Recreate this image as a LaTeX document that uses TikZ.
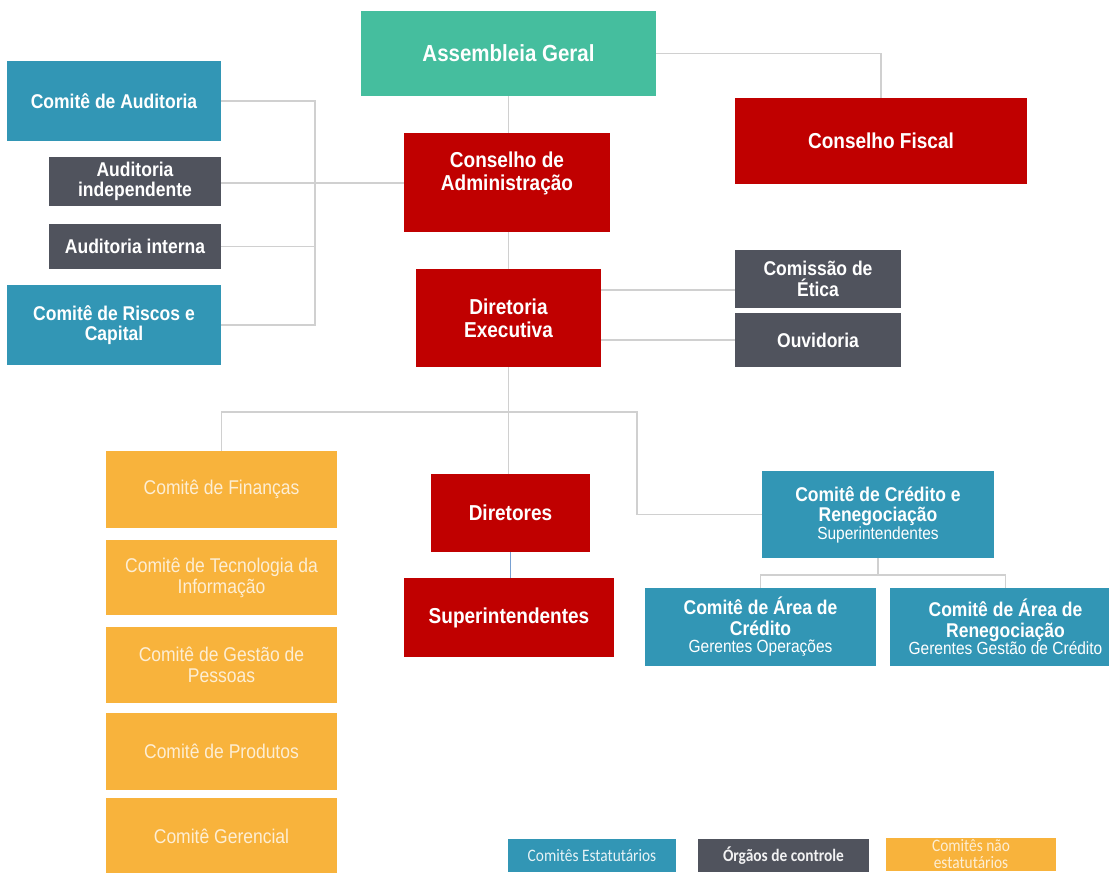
\documentclass[tikz,border=0pt]{standalone}
\usepackage{fontspec}
\setmainfont[FakeStretch=0.88]{Liberation Sans}
\newfontfamily\legendfont[FakeStretch=0.88]{Carlito}
\newcommand\subtxt{\mdseries\fontsize{17.6}{18}\selectfont}
\definecolor{cteal}{RGB}{69,190,158}
\definecolor{cred}{RGB}{192,0,0}
\definecolor{cblue}{RGB}{50,150,181}
\definecolor{cgray}{RGB}{80,83,93}
\definecolor{cyellow}{RGB}{248,179,60}
\definecolor{ytext}{RGB}{253,238,212}
\definecolor{cline}{RGB}{208,208,208}
\definecolor{clineblue}{RGB}{120,160,210}
\tikzset{
  box/.style={draw=none, align=center, text=white, inner sep=1pt},
  big/.style={font=\bfseries\fontsize{21.6}{23}\selectfont},
  mid/.style={font=\bfseries\fontsize{19.9}{20.5}\selectfont},
  tealbox/.style={box, fill=cteal, font=\bfseries\fontsize{23.3}{24}\selectfont},
  redbox/.style={box, fill=cred, big},
  bluebox/.style={box, fill=cblue, mid},
  graybox/.style={box, fill=cgray, mid},
  yellowbox/.style={box, fill=cyellow, text=ytext, font=\fontsize{19.9}{21}\selectfont},
  legendbox/.style={box, font=\legendfont\fontsize{17.5}{17}\selectfont, minimum height=33pt},
  conn/.style={draw=cline, line width=1.6pt}
}
\begin{document}
\begin{tikzpicture}[x=1pt,y=-1pt]
\useasboundingbox (0,0) rectangle (1109,873);
% top
\node[tealbox, minimum width=295pt, minimum height=85pt] (ag) at (508.5,53.5) {Assembleia Geral};
\node[redbox, minimum width=292pt, minimum height=86pt] (cf) at (881,141) {Conselho Fiscal};
\node[redbox, minimum width=206pt, minimum height=99pt] (cadm) at (507,182.5) {Conselho de\\Administração\\[-1pt]\mbox{}};
\node[redbox, minimum width=185pt, minimum height=98pt] (de) at (508.5,318) {Diretoria\\Executiva};
\node[graybox, minimum width=166pt, minimum height=58pt] (ce) at (818,279) {Comissão de\\Ética};
\node[graybox, minimum width=166pt, minimum height=54pt] (ov) at (818,340) {Ouvidoria};
% left
\node[bluebox, minimum width=214pt, minimum height=80pt] (caud) at (114,101) {Comitê de Auditoria};
\node[graybox, minimum width=172pt, minimum height=49pt] (aind) at (135,181.5) {Auditoria\\independente};
\node[graybox, minimum width=172pt, minimum height=45pt] (aint) at (135,246.5) {Auditoria interna};
\node[bluebox, minimum width=214pt, minimum height=80pt] (crisc) at (114,325) {Comitê de Riscos e\\Capital};
% middle
\node[redbox, minimum width=159pt, minimum height=78pt] (dir) at (510.5,513) {Diretores};
\node[redbox, minimum width=210pt, minimum height=79pt] (sup) at (509,617.5) {Superintendentes};
% yellow
\node[yellowbox, minimum width=231pt, minimum height=77pt] (fin) at (221.5,489.5) {Comitê de Finanças};
\node[yellowbox, minimum width=231pt, minimum height=75pt] (tec) at (221.5,577.5) {Comitê de Tecnologia da\\Informação};
\node[yellowbox, minimum width=231pt, minimum height=76pt] (gp) at (221.5,665) {Comitê de Gestão de\\Pessoas};
\node[yellowbox, minimum width=231pt, minimum height=77pt] (prod) at (221.5,751.5) {Comitê de Produtos};
\node[yellowbox, minimum width=231pt, minimum height=77pt] (ger) at (221.5,836.5) {Comitê Gerencial};
% credit
\node[bluebox, minimum width=232pt, minimum height=87pt] (ccr) at (878,514.5) {Comitê de Crédito e\\Renegociação\\[-3pt]{\subtxt Superintendentes}};
\node[bluebox, minimum width=231pt, minimum height=78pt] (aca) at (760.5,627) {Comitê de Área de\\Crédito\\[-3pt]{\subtxt Gerentes Operações}};
\node[bluebox, minimum width=231pt, minimum height=78pt] (acr) at (1005.5,627) {Comitê de Área de\\Renegociação\\[-3pt]{\subtxt Gerentes Gestão de Crédito}};
% legend
\node[legendbox, fill=cblue, text=white!88!cblue, minimum width=168pt] (l1) at (592,855.5) {Comitês Estatutários};
\node[legendbox, fill=cgray, text=white!92!cgray, minimum width=171pt] (l2) at (783.5,855.5) {\bfseries Órgãos de controle};
\node[legendbox, fill=cyellow, text=ytext, minimum width=170pt] (l3) at (971,854.5) {Comitês não\\estatutários};
% connectors
\coordinate (lj) at (315,183);
\draw[conn] (ag.south) -- (ag.south |- cadm.north);
\draw[conn] (ag.east) -| (cf.north);
\draw[conn] (caud.east) -| (lj);
\draw[conn] (aint.east) -| (lj);
\draw[conn] (crisc.east) -| (lj);
\draw[conn] (aind.east |- lj) -- (cadm.west |- lj);
\draw[conn] (cadm.south -| de.north) -- (de.north);
\coordinate (d1) at ([yshift=28pt]de.east);
\coordinate (d2) at ([yshift=-22pt]de.east);
\draw[conn] (d1) -- (d1 -| ce.west);
\draw[conn] (d2) -- (d2 -| ov.west);
\coordinate (br) at (508.5,412);
\coordinate (rb) at (637,514.5);
\draw[conn] (de.south) -- (de.south |- dir.north);
\draw[conn] (fin.north) |- (br) -| (rb) -- (ccr.west);
\draw[draw=clineblue, line width=1.6pt] (dir.south) -- (dir.south |- sup.north);
\coordinate (cb) at (878,575);
\draw[conn] (ccr.south) -- (cb);
\draw[conn] (aca.north) |- (cb) -| (acr.north);
\end{tikzpicture}
\end{document}
